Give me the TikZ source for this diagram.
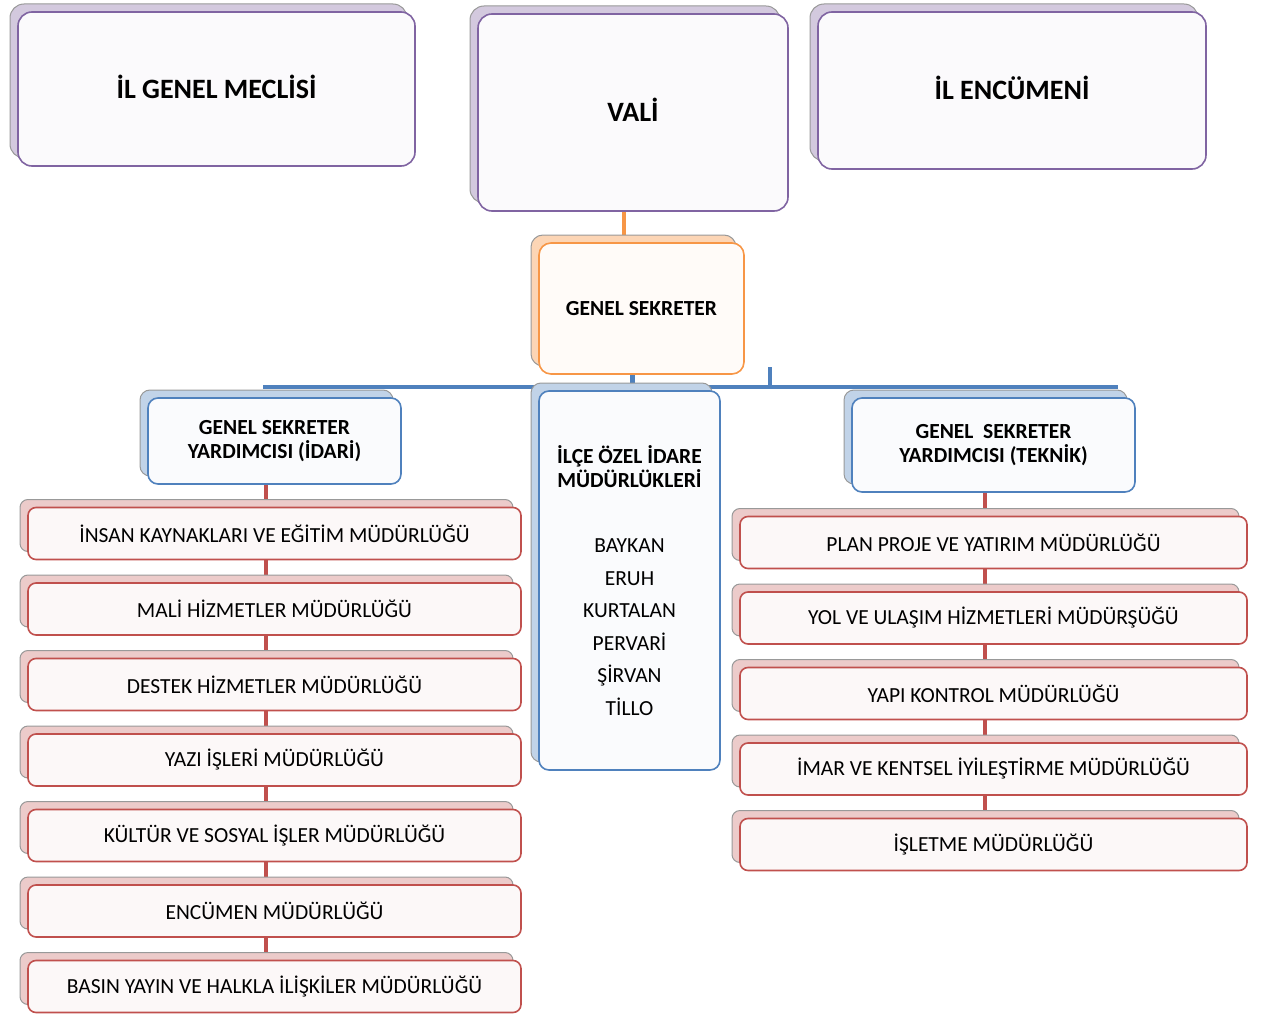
\documentclass[tikz,border=0pt]{standalone}
\usepackage{fontspec}
\setmainfont{Carlito}
\usetikzlibrary{shadows,backgrounds}

\definecolor{mor}{HTML}{8064A2}
\definecolor{turuncu}{HTML}{F79646}
\definecolor{mavi}{HTML}{4F81BD}
\definecolor{kirmizi}{HTML}{C0504D}

\begin{document}
\begin{tikzpicture}[x=1pt,y=-1pt,
  kutu/.style={rectangle,rounded corners=8pt,line width=1.6pt,align=center,inner sep=0pt,
    font=\fontsize{21.5}{24}\selectfont},
  golge/.style={copy shadow={shadow xshift=-8pt,shadow yshift=8pt,draw=gray!80,line width=1pt,fill=#1}},
  ust/.style={kutu,rounded corners=14pt,draw=mor,fill=mor!3,golge=mor!35,text depth=5pt,
    font=\fontsize{28}{32}\selectfont\bfseries},
  sekreter/.style={kutu,rounded corners=12pt,draw=turuncu,fill=turuncu!4,golge=turuncu!40,
    font=\fontsize{21.5}{24}\selectfont\bfseries},
  yard/.style={kutu,rounded corners=10pt,draw=mavi,fill=mavi!3,golge=mavi!35,
    font=\fontsize{21.5}{24}\selectfont\bfseries},
  mudur/.style={kutu,draw=kirmizi,fill=kirmizi!4,golge=kirmizi!30,minimum height=52pt},
  mavicizgi/.style={draw=mavi,line width=4.5pt},
  kirmizicizgi/.style={draw=kirmizi,line width=4pt},
  turuncucizgi/.style={draw=turuncu,line width=4.5pt}]
\useasboundingbox (0,0) rectangle (1264,1014);

% ust sira
\node[ust,minimum width=397pt,minimum height=154pt] (meclis) at (216.5,89) {İL GENEL MECLİSİ};
\node[ust,minimum width=310pt,minimum height=197pt] (vali) at (633,112.5) {VALİ};
\node[ust,minimum width=388pt,minimum height=157pt] (encumen) at (1012,90.5) {İL ENCÜMENİ};

\node[sekreter,minimum width=205pt,minimum height=131pt] (gs) at (641.5,308.5) {GENEL SEKRETER};

% yardimcilar
\node[yard,minimum width=253pt,minimum height=86pt] (idari) at (274.5,441)
  {GENEL SEKRETER\\YARDIMCISI (İDARİ)};
\node[yard,minimum width=283pt,minimum height=94pt] (teknik) at (993.5,445)
  {GENEL~~SEKRETER\\YARDIMCISI (TEKNİK)};
\node[yard,minimum width=181pt,minimum height=379pt,font=\fontsize{21.5}{32.5}\selectfont] (ilce) at (629.5,580.5)
  {\textbf{İLÇE ÖZEL İDARE}\\[-8.5pt]\textbf{MÜDÜRLÜKLERİ}\\[32.5pt]
   BAYKAN\\ERUH\\KURTALAN\\PERVARİ\\ŞİRVAN\\TİLLO};

% mudurlukler
\foreach \ad [count=\i] in {İNSAN KAYNAKLARI VE EĞİTİM MÜDÜRLÜĞÜ,MALİ HİZMETLER MÜDÜRLÜĞÜ,
  DESTEK HİZMETLER MÜDÜRLÜĞÜ,YAZI İŞLERİ MÜDÜRLÜĞÜ,KÜLTÜR VE SOSYAL İŞLER MÜDÜRLÜĞÜ,
  ENCÜMEN MÜDÜRLÜĞÜ,BASIN YAYIN VE HALKLA İLİŞKİLER MÜDÜRLÜĞÜ}
  \node[mudur,minimum width=493pt] (sol\i) at (274.5,533.5+75.5*\i-75.5) {\ad};
\foreach \ad [count=\i] in {PLAN PROJE VE YATIRIM MÜDÜRLÜĞÜ,YOL VE ULAŞIM HİZMETLERİ MÜDÜRŞÜĞÜ,
  YAPI KONTROL MÜDÜRLÜĞÜ,İMAR VE KENTSEL İYİLEŞTİRME MÜDÜRLÜĞÜ,İŞLETME MÜDÜRLÜĞÜ}
  \node[mudur,minimum width=507pt] (sag\i) at (993.5,542.5+75.5*\i-75.5) {\ad};

% baglantilar
\coordinate (barsol) at (263,387);
\coordinate (barsag) at (1118,387);
\coordinate (uc) at (770,367);
\begin{scope}[on background layer]
  \draw[turuncucizgi] ([xshift=-9pt]vali.south) -- ([xshift=-9pt]vali.south |- gs.north);
  \draw[mavicizgi] (barsol) -- (barsag);
  \draw[mavicizgi] ([xshift=-9pt]gs.south) -- ([xshift=-9pt]gs.south |- barsol);
  \draw[mavicizgi] (uc) -- (uc |- barsol);
  \draw[kirmizicizgi] ([xshift=-8.5pt]idari.south) -- ([xshift=-8.5pt]idari.south |- sol7.north);
  \draw[kirmizicizgi] ([xshift=-8.5pt]teknik.south) -- ([xshift=-8.5pt]teknik.south |- sag5.north);
\end{scope}
\end{tikzpicture}
\end{document}
